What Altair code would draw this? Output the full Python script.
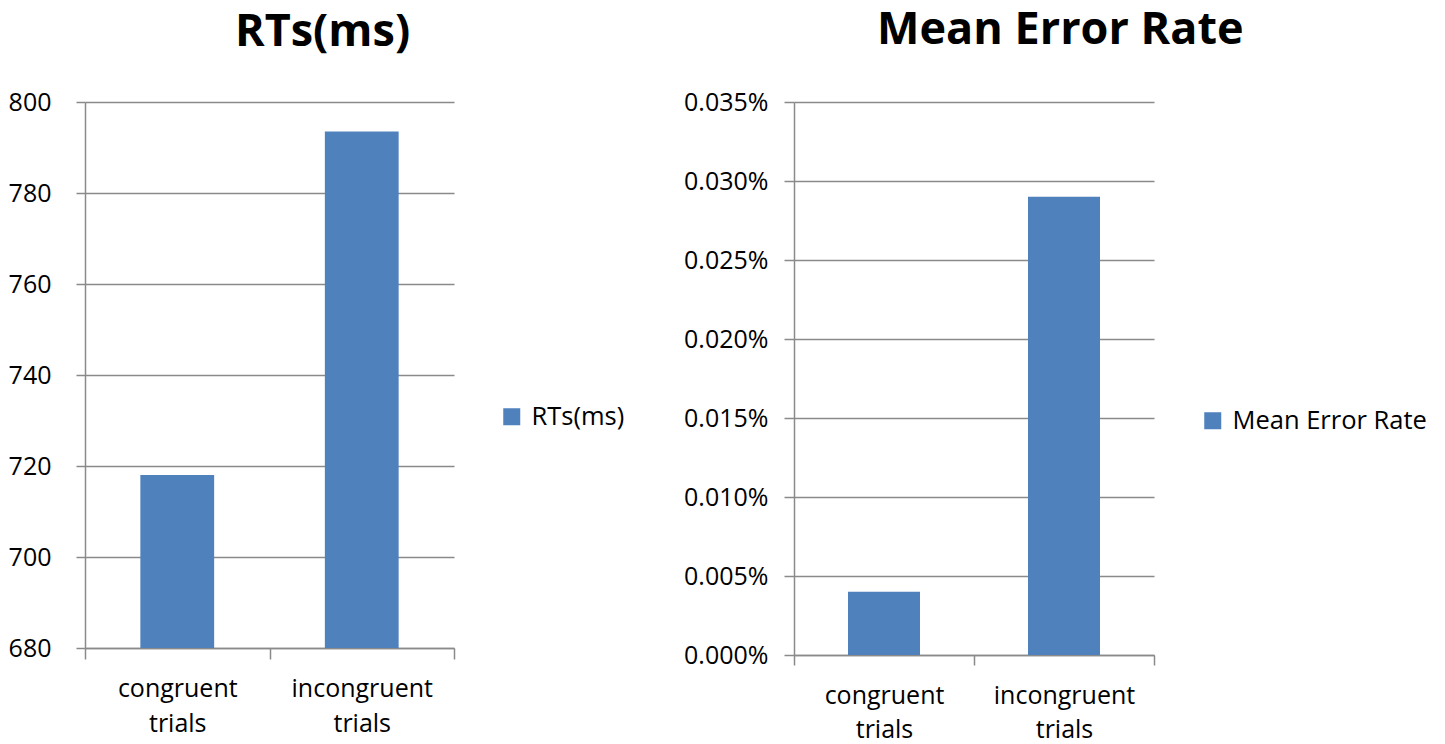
import altair as alt
import pandas as pd

# Conditions shown on both panels
categories = ["congruent trials", "incongruent trials"]

# Mean reaction times in milliseconds
rt_values = [718, 793.5]
rt_ticks = [680, 700, 720, 740, 760, 780, 800]

# Mean error rate, expressed in percent
error_values = [0.004, 0.029]
error_ticks = [0.000, 0.005, 0.010, 0.015, 0.020, 0.025, 0.030, 0.035]

BLUE = "#4F81BD"
GRID = "#8a8a8a"
FONT = "Open Sans"

rt_df = pd.DataFrame({"condition": categories, "value": rt_values, "series": "RTs(ms)"})
err_df = pd.DataFrame({"condition": categories, "value": error_values, "series": "Mean Error Rate"})


def x_axis(tick_len, pad, line_height):
    return alt.X(
        "condition:N",
        sort=categories,
        scale=alt.Scale(paddingInner=0, paddingOuter=0),
        axis=alt.Axis(
            title=None,
            labelAngle=0,
            tickBand="extent",
            tickSize=tick_len,
            labelExpr="split(datum.label, ' ')",
            labelLineHeight=line_height,
            labelPadding=pad,
            labelBaseline="top",
            grid=False,
        ),
    )


def legend(x, y):
    return alt.Legend(
        title=None,
        orient="none",
        legendX=x,
        legendY=y,
        symbolType="square",
        symbolSize=289,
        symbolStrokeWidth=0,
        symbolOpacity=1,
        labelFontSize=25.5,
        labelFont=FONT,
        labelColor="black",
        labelOffset=7,
        labelLimit=0,
        padding=0,
    )


rt_chart = (
    alt.Chart(rt_df)
    .mark_bar(width={"band": 0.4})
    .encode(
        x=x_axis(11, 17, 35),
        y=alt.Y(
            "value:Q",
            scale=alt.Scale(domain=[rt_ticks[0], rt_ticks[-1]], zero=False, nice=False),
            axis=alt.Axis(title=None, values=rt_ticks, tickSize=9, labelPadding=25),
        ),
        y2=alt.datum(rt_ticks[0]),
        color=alt.Color("series:N", scale=alt.Scale(range=[BLUE]), legend=legend(414, 302)),
    )
    .properties(
        width=369,
        height=546,
        title=alt.TitleParams(
            "RTs(ms)", fontSize=45, font=FONT, fontWeight="bold", color="black",
            anchor="middle", frame="bounds", offset=35, dx=6,
        ),
    )
)

err_chart = (
    alt.Chart(err_df)
    .mark_bar(width={"band": 0.4})
    .encode(
        x=x_axis(10, 18, 34),
        y=alt.Y(
            "value:Q",
            scale=alt.Scale(domain=[error_ticks[0], error_ticks[-1]], nice=False),
            axis=alt.Axis(
                title=None, values=error_ticks, tickSize=10, labelPadding=16,
                labelExpr="format(datum.value, '.3f') + '%'",
            ),
        ),
        color=alt.Color("series:N", scale=alt.Scale(range=[BLUE]), legend=legend(406, 306)),
    )
    .properties(
        width=360,
        height=553,
        title=alt.TitleParams(
            "Mean Error Rate", fontSize=45, font=FONT, fontWeight="bold", color="black",
            anchor="middle", frame="bounds", offset=37, dx=5,
        ),
    )
)

chart = (
    alt.hconcat(rt_chart, err_chart, spacing=58)
    .resolve_scale(color="independent")
    .resolve_legend(color="independent")
    .properties(padding={"left": 8, "top": 8, "right": 0, "bottom": 0})
    .configure(background="white")
    .configure_view(stroke=None)
    .configure_axis(
        domainColor=GRID,
        domainWidth=1.5,
        tickColor=GRID,
        tickWidth=1.5,
        gridColor=GRID,
        gridWidth=1.5,
        gridOpacity=1,
        labelFont=FONT,
        labelFontSize=25,
        labelColor="black",
    )
)

chart.save("out.html", embed_options={"renderer": "svg", "actions": False})
